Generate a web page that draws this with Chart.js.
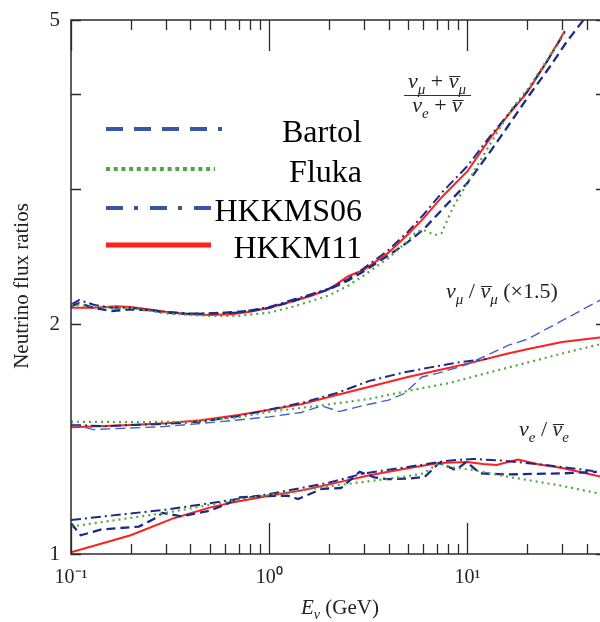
<!DOCTYPE html>
<html><head><meta charset="utf-8">
<script src="https://cdn.jsdelivr.net/npm/chart.js@4/dist/chart.umd.min.js"></script>
<style>html,body{margin:0;padding:0;background:#fff;overflow:hidden;}canvas{display:block;}</style>
</head><body>
<canvas id="c" width="606" height="622"></canvas>
<script>
// ---------------- DATA ----------------
const MODELS = ['Bartol', 'Fluka', 'HKKMS06', 'HKKM11'];

// (nu_mu + nubar_mu)/(nu_e + nubar_e)
const E_MUE_BARTOL  = [0.1,0.11,0.13,0.16,0.2,0.25,0.3,0.4,0.5,0.6,0.8,1.0,1.3,1.6,2.0,2.5,3.0,4.0,5.0,6.0,8.0,10,13,16,20,26,32,38.5];
const V_MUE_BARTOL  = [2.11,2.13,2.10,2.08,2.09,2.085,2.07,2.06,2.065,2.07,2.08,2.10,2.14,2.18,2.22,2.28,2.345,2.46,2.56,2.66,2.88,3.06,3.36,3.63,3.95,4.34,4.70,5.0];
const E_MUE_FLUKA   = [0.1,0.13,0.17,0.2,0.25,0.3,0.4,0.5,0.7,1.0,1.3,1.6,2.0,2.5,3.0,4.0,5.0,5.5,6.0,6.85,7.4,8.5,10,11.1,14,17,20,25,31];
const V_MUE_FLUKA   = [2.12,2.11,2.10,2.10,2.08,2.065,2.055,2.05,2.05,2.07,2.105,2.14,2.18,2.245,2.315,2.44,2.57,2.64,2.655,2.615,2.63,2.85,3.06,3.21,3.55,3.85,4.05,4.42,4.83];
const E_MUE_HKKMS06 = [0.1,0.11,0.13,0.16,0.2,0.25,0.3,0.4,0.5,0.7,1.0,1.3,1.6,2.0,2.5,3.0,4.0,5.0,6.0,7.5,10,13,16,20,25,31];
const V_MUE_HKKMS06 = [2.12,2.15,2.12,2.10,2.10,2.085,2.075,2.065,2.065,2.07,2.105,2.15,2.185,2.225,2.29,2.365,2.50,2.64,2.78,2.98,3.22,3.52,3.76,4.03,4.40,4.82];
const E_MUE_HKKM11  = [0.1,0.13,0.17,0.2,0.25,0.3,0.4,0.5,0.65,0.8,1.0,1.3,1.6,2.0,2.5,3.0,4.0,5.0,6.0,7.5,10,13,16,20,25,31];
const V_MUE_HKKM11  = [2.10,2.10,2.11,2.105,2.09,2.075,2.06,2.055,2.06,2.075,2.10,2.14,2.175,2.22,2.31,2.355,2.48,2.62,2.75,2.94,3.17,3.50,3.75,4.02,4.40,4.84];

// nu_mu / nubar_mu (x1.5)
const E_MU_BARTOL  = [0.1,0.13,0.2,0.29,0.4,0.65,1.0,1.45,1.84,2.25,3.0,4.0,4.8,5.9,7.2,10,16,20,30,50];
const V_MU_BARTOL  = [1.48,1.455,1.462,1.468,1.478,1.495,1.512,1.532,1.563,1.536,1.565,1.59,1.622,1.705,1.726,1.771,1.875,1.91,2.02,2.17];
const E_MU_FLUKA   = [0.1,0.2,0.4,0.7,1.0,1.5,2.2,3.2,5.0,8.0,12,20,30,50];
const V_MU_FLUKA   = [1.49,1.488,1.49,1.51,1.535,1.555,1.575,1.596,1.635,1.673,1.72,1.78,1.83,1.89];
const E_MU_HKKMS06 = [0.1,0.15,0.2,0.3,0.45,0.7,1.0,1.5,2.2,3.2,4.8,6.5,8.8,12.5];
const V_MU_HKKMS06 = [1.475,1.47,1.475,1.48,1.49,1.515,1.545,1.58,1.625,1.685,1.729,1.755,1.78,1.80];
const E_MU_HKKM11  = [0.1,0.2,0.3,0.45,0.7,1.0,1.45,2.0,3.2,5.0,7.5,10,16,20,30,50];
const V_MU_HKKM11  = [1.465,1.475,1.483,1.497,1.52,1.545,1.57,1.605,1.655,1.705,1.745,1.775,1.83,1.853,1.895,1.925];

// nu_e / nubar_e
const E_E_BARTOL  = [0.1,0.112,0.143,0.22,0.26,0.29,0.36,0.49,0.6,0.71,0.9,1.24,1.4,1.84,2.3,2.86,3.4,3.94,5.0,6.1,7.2,8.75,9.9,11.6,16,30,45];
const V_E_BARTOL  = [1.097,1.058,1.077,1.086,1.11,1.132,1.12,1.138,1.16,1.186,1.19,1.192,1.18,1.217,1.22,1.281,1.26,1.253,1.255,1.262,1.316,1.288,1.32,1.275,1.271,1.275,1.281];
const E_E_FLUKA   = [0.1,0.13,0.3,0.65,1.0,2.2,4.8,6.0,7.2,8.0,10.7,16,29,50];
const V_E_FLUKA   = [1.086,1.097,1.132,1.174,1.195,1.23,1.262,1.275,1.316,1.30,1.288,1.262,1.23,1.195];
const E_E_HKKMS06 = [0.1,0.2,0.3,0.5,1.0,2.0,3.0,5.0,8.0,10.7,15,24,43];
const V_E_HKKMS06 = [1.108,1.13,1.143,1.165,1.198,1.24,1.275,1.30,1.325,1.332,1.325,1.309,1.284];
const E_E_HKKM11  = [0.1,0.2,0.33,0.5,0.65,1.0,1.45,2.2,3.2,5.0,7.2,10,12,14,18,23,30,50];
const V_E_HKKM11  = [1.005,1.058,1.114,1.15,1.168,1.192,1.211,1.24,1.268,1.295,1.316,1.32,1.312,1.308,1.329,1.31,1.296,1.258];

// axes / ticks
const X_TICKS = [0.1,0.2,0.3,0.4,0.5,0.6,0.7,0.8,0.9,1,2,3,4,5,6,7,8,9,10,20,30,40,50];
const X_LABEL_VALUES = [0.1, 1, 10];
const X_LABELS = ['10\u207B\u00B9', '10\u2070', '10\u00B9'];
const Y_TICKS = [1,2,3,4,5];
const Y_LABEL_VALUES = [1, 2, 5];
const Y_LABELS = ['1', '2', '5'];

// ---------------- STYLES ----------------
const SERIF = "'Liberation Serif', 'Times New Roman', serif";
const AXIS_COLOR = '#2b2b2b';
const NAVY = '#1d2b86';
const LIGHTBLUE = '#3f63c6';
const GREEN = '#4fa83e';
const RED = '#ff1f1f';
const LEG_BLUE = '#3756a6';

const STYLE = {
  Bartol:  {color: NAVY,  width: 2.3, dash: [9, 5]},
  BartolMu:{color: LIGHTBLUE, width: 1.4, dash: [10, 5]},
  Fluka:   {color: GREEN, width: 2.2, dash: [2, 4]},
  HKKMS06: {color: NAVY,  width: 2.0, dash: [10, 4, 2, 4]},
  HKKM11:  {color: RED,   width: 2.0, dash: []}
};

function ds(label, E, V, st) {
  return {
    label, data: E.map((e, i) => ({x: e, y: V[i]})),
    borderColor: st.color, borderWidth: st.width, borderDash: st.dash,
    pointRadius: 0, fill: false, tension: 0, borderCapStyle: 'butt'
  };
}

const datasets = [
  ds('Fluka', E_MUE_FLUKA, V_MUE_FLUKA, STYLE.Fluka),
  ds('Fluka', E_MU_FLUKA, V_MU_FLUKA, STYLE.Fluka),
  ds('Fluka', E_E_FLUKA, V_E_FLUKA, STYLE.Fluka),
  ds('Bartol', E_MUE_BARTOL, V_MUE_BARTOL, STYLE.Bartol),
  ds('Bartol', E_MU_BARTOL, V_MU_BARTOL, STYLE.BartolMu),
  ds('Bartol', E_E_BARTOL, V_E_BARTOL, STYLE.Bartol),
  ds('HKKMS06', E_MUE_HKKMS06, V_MUE_HKKMS06, STYLE.HKKMS06),
  ds('HKKMS06', E_MU_HKKMS06, V_MU_HKKMS06, STYLE.HKKMS06),
  ds('HKKMS06', E_E_HKKMS06, V_E_HKKMS06, STYLE.HKKMS06),
  ds('HKKM11', E_MUE_HKKM11, V_MUE_HKKM11, STYLE.HKKM11),
  ds('HKKM11', E_MU_HKKM11, V_MU_HKKM11, STYLE.HKKM11),
  ds('HKKM11', E_E_HKKM11, V_E_HKKM11, STYLE.HKKM11)
];

// legend styles (bigger)
const LEGEND = [
  {label: 'Bartol',  color: LEG_BLUE, width: 4, dash: [17, 11], y: 129},
  {label: 'Fluka',   color: GREEN,    width: 4, dash: [4, 3.7], y: 169, x2: 215},
  {label: 'HKKMS06', color: LEG_BLUE, width: 4, dash: [17, 11, 4, 12], y: 208, x2: 212},
  {label: 'HKKM11',  color: RED,      width: 5, dash: [], y: 245, x2: 211}
];

// draw a sequence of text runs: {t, sub, it, bar}
function runs(ctx, x, y, parts, size, align) {
  const subSize = Math.round(size * 0.66);
  const fontFor = p => (p.it ? 'italic ' : '') + (p.sub ? subSize : size) + 'px ' + SERIF;
  let w = 0;
  parts.forEach(p => { ctx.font = fontFor(p); p.w = ctx.measureText(p.t).width; w += p.w; });
  let cx = align === 'center' ? x - w / 2 : x;
  ctx.textAlign = 'left'; ctx.textBaseline = 'alphabetic';
  parts.forEach(p => {
    ctx.font = fontFor(p);
    ctx.fillText(p.t, cx, y + (p.sub ? size * 0.25 : 0));
    if (p.bar) {
      ctx.save();
      ctx.textAlign = 'center';
      ctx.font = size + 'px ' + SERIF;
      ctx.fillText('\u00AF', cx + p.w * 0.62, y + size * 0.2);
      ctx.restore();
    }
    cx += p.w;
  });
  return w;
}

const framePlugin = {
  id: 'frame',
  afterDatasetsDraw(chart) {
    const {ctx, chartArea: a, scales: {x, y}} = chart;
    ctx.save();
    ctx.strokeStyle = AXIS_COLOR;
    ctx.lineWidth = 1.5;
    ctx.strokeRect(a.left, a.top, a.right - a.left, a.bottom - a.top);
    ctx.lineWidth = 1.3;
    ctx.beginPath();
    x.ticks.forEach(t => {
      const px = Math.round(x.getPixelForValue(t.value)) + 0.5;
      const lg = Math.log10(t.value);
      const L = Math.abs(lg - Math.round(lg)) < 1e-6 ? 31 : 10;
      ctx.moveTo(px, a.bottom); ctx.lineTo(px, a.bottom - L);
      ctx.moveTo(px, a.top); ctx.lineTo(px, a.top + L);
    });
    y.ticks.forEach(t => {
      const py = Math.round(y.getPixelForValue(t.value)) + 0.5;
      ctx.moveTo(a.left, py); ctx.lineTo(a.left + 10, py);
      ctx.moveTo(a.right, py); ctx.lineTo(a.right - 10, py);
    });
    ctx.stroke();
    ctx.restore();
  },
  afterDraw(chart) {
    const {ctx} = chart;
    ctx.save();
    // legend
    LEGEND.forEach(l => {
      ctx.strokeStyle = l.color; ctx.lineWidth = l.width; ctx.setLineDash(l.dash); ctx.lineCap = 'butt';
      ctx.beginPath(); ctx.moveTo(106, l.y); ctx.lineTo(l.x2 || 222, l.y); ctx.stroke();
      ctx.setLineDash([]);
      ctx.fillStyle = '#000'; ctx.font = '32px ' + SERIF; ctx.textAlign = 'right'; ctx.textBaseline = 'alphabetic';
      ctx.fillText(l.label, 362, l.y + 13);
    });
    // axis titles
    ctx.fillStyle = '#222';
    ctx.save();
    ctx.translate(28, 286); ctx.rotate(-Math.PI / 2);
    ctx.font = '21px ' + SERIF; ctx.textAlign = 'center'; ctx.textBaseline = 'alphabetic';
    ctx.fillText('Neutrino flux ratios', 0, 0);
    ctx.restore();
    runs(ctx, 340, 614, [{t: 'E', it: true}, {t: '\u03BD', it: true, sub: true}, {t: ' (GeV)'}], 21, 'center');
    // annotations
    const NU = '\u03BD';
    runs(ctx, 437, 88, [{t: NU, it: true}, {t: '\u03BC', it: true, sub: true}, {t: ' + '}, {t: NU, it: true, bar: true}, {t: '\u03BC', it: true, sub: true}], 22, 'center');
    ctx.strokeStyle = '#333'; ctx.lineWidth = 1.2; ctx.beginPath(); ctx.moveTo(404, 95.5); ctx.lineTo(471, 95.5); ctx.stroke();
    runs(ctx, 437, 112, [{t: NU, it: true}, {t: 'e', it: true, sub: true}, {t: ' + '}, {t: NU, it: true, bar: true}], 22, 'center');
    runs(ctx, 446, 298, [{t: NU, it: true}, {t: '\u03BC', it: true, sub: true}, {t: ' / '}, {t: NU, it: true, bar: true}, {t: '\u03BC', it: true, sub: true}, {t: ' (\u00D71.5)'}], 22, 'left');
    runs(ctx, 519, 436, [{t: NU, it: true}, {t: 'e', it: true, sub: true}, {t: ' / '}, {t: NU, it: true, bar: true}, {t: 'e', it: true, sub: true}], 22, 'left');
    ctx.restore();
  }
};

new Chart(document.getElementById('c'), {
  type: 'line',
  data: {datasets},
  options: {
    responsive: false, animation: false, devicePixelRatio: 1,
    layout: {padding: {top: 20, right: 0, left: 0, bottom: 0}},
    plugins: {legend: {display: false}, tooltip: {enabled: false}},
    scales: {
      x: {
        type: 'logarithmic', position: 'bottom', min: 0.1, max: 50,
        grid: {display: false, drawTicks: false}, border: {display: false},
        afterBuildTicks: s => { s.ticks = X_TICKS.map(v => ({value: v})); },
        afterFit: s => { s.height = 68; s.paddingLeft = 0; s.paddingRight = 0; },
        ticks: {
          autoSkip: false, maxRotation: 0, padding: 12, color: '#222',
          font: {family: SERIF, size: 20},
          callback: v => { const i = X_LABEL_VALUES.indexOf(v); return i >= 0 ? X_LABELS[i] : ''; }
        }
      },
      y: {
        type: 'logarithmic', position: 'left', min: 1, max: 5,
        grid: {display: false, drawTicks: false}, border: {display: false},
        afterBuildTicks: s => { s.ticks = Y_TICKS.map(v => ({value: v})); },
        afterFit: s => { s.width = 71; s.paddingTop = 0; s.paddingBottom = 0; },
        ticks: {
          autoSkip: false, padding: 11, color: '#222',
          font: {family: SERIF, size: 21},
          callback: v => { const i = Y_LABEL_VALUES.indexOf(v); return i >= 0 ? Y_LABELS[i] : ''; }
        }
      }
    }
  },
  plugins: [framePlugin]
});
</script>
</body></html>
